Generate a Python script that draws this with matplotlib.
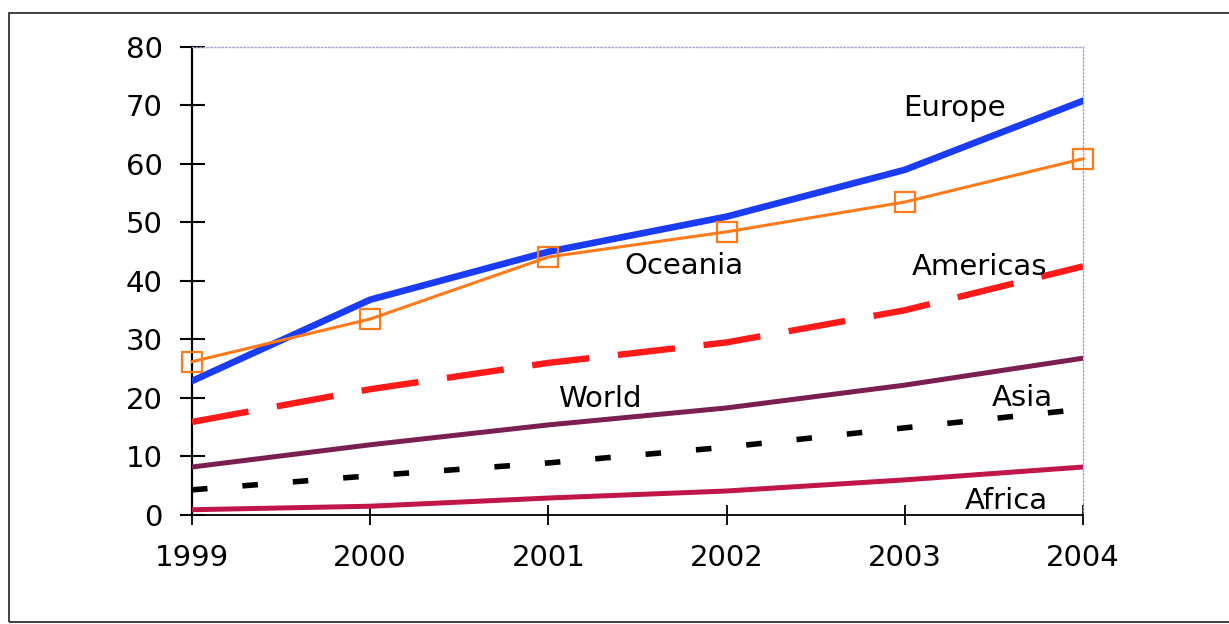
import matplotlib
matplotlib.use("Agg")
import matplotlib.pyplot as plt
from matplotlib.patches import Rectangle

plt.rcParams['font.family'] = ['DejaVu Sans']

years = [1999, 2000, 2001, 2002, 2003, 2004]
europe = [22.9, 36.8, 45.0, 51.0, 59.0, 70.8]
oceania = [26.2, 33.5, 44.1, 48.4, 53.5, 60.9]
americas = [15.9, 21.5, 26.0, 29.5, 35.0, 42.5]
world = [8.2, 12.0, 15.4, 18.3, 22.2, 26.8]
asia = [4.3, 6.7, 8.9, 11.6, 14.9, 18.1]
africa = [0.9, 1.5, 2.9, 4.1, 6.0, 8.2]

y_ticks = [0, 10, 20, 30, 40, 50, 60, 70, 80]

# series names with label anchor (year, value)
labels = {
    "Europe": (2003.28, 69.6),
    "Oceania": (2001.76, 42.6),
    "Americas": (2003.42, 42.4),
    "World": (2001.29, 19.8),
    "Asia": (2003.66, 20.0),
    "Africa": (2003.57, 2.4),
}

fig = plt.figure(figsize=(12.29, 6.24), dpi=100)
ax = fig.add_axes([0.1562, 0.1747, 0.725, 0.75])

# outer frame
fig.patches.append(Rectangle((9 / 1229, 2 / 624), 1.02, 609 / 624,
                             transform=fig.transFigure, fill=False,
                             edgecolor='#222222', linewidth=1.2))

ax.plot(years, africa, color='#c0164a', lw=3.6, zorder=3)
ax.plot(years, asia, color='black', lw=4.0, dashes=(2.8, 6.3), zorder=3)
ax.plot(years, world, color='#7a1f4f', lw=3.6, zorder=3)
ax.plot(years, americas, color='#ff1a1a', lw=4.6, dashes=(9.0, 4.5), zorder=3)
ax.plot(years, europe, color='#1a3cf5', lw=4.8, zorder=3)
ax.plot(years, oceania, color='#ff7a1a', lw=2.2, marker='s', markersize=14,
        markerfacecolor='none', markeredgecolor='#ff7a1a', markeredgewidth=1.6,
        zorder=4, clip_on=False)

for name, (x, y) in labels.items():
    ax.text(x, y, name, ha='center', va='center', fontsize=21, color='black',
            zorder=5)

ax.set_xlim(1999, 2004)
ax.set_ylim(0, 80)
ax.set_xticks(years)
ax.set_xticklabels([str(y) for y in years])
ax.set_yticks(y_ticks)

ax.tick_params(axis='y', direction='inout', length=18, width=1.5, pad=12,
               labelsize=21)
ax.tick_params(axis='x', direction='inout', length=14, width=1.3, pad=14,
               labelsize=21)

ax.spines['left'].set_linewidth(1.6)
ax.spines['bottom'].set_linewidth(1.3)
for side in ('top', 'right'):
    ax.spines[side].set_color('#a8a0d0')
    ax.spines[side].set_linestyle(':')
    ax.spines[side].set_linewidth(1.0)

fig.savefig("out.png", dpi=100)
